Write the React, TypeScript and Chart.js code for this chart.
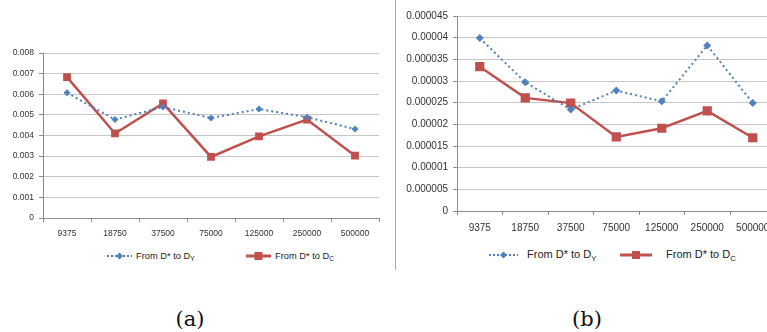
import React, { useEffect, useRef } from 'react';
import { Chart, registerables } from 'chart.js';

Chart.register(...registerables);

const categories = ['9375', '18750', '37500', '75000', '125000', '250000', '500000'];

const leftDY = [0.00607, 0.00477, 0.00538, 0.00485, 0.00528, 0.00489, 0.00431];
const leftDC = [0.00683, 0.0041, 0.00556, 0.00296, 0.00396, 0.00477, 0.00302];

const rightDY = [0.0000399, 0.0000297, 0.0000234, 0.0000278, 0.0000253, 0.0000382, 0.0000249];
const rightDC = [0.0000333, 0.0000261, 0.0000249, 0.0000171, 0.0000191, 0.0000231, 0.0000169];

const leftTickValues = [0, 0.001, 0.002, 0.003, 0.004, 0.005, 0.006, 0.007, 0.008];
const leftTickLabels = ['0', '0.001', '0.002', '0.003', '0.004', '0.005', '0.006', '0.007', '0.008'];

const rightTickValues = [0, 0.000005, 0.00001, 0.000015, 0.00002, 0.000025, 0.00003, 0.000035, 0.00004, 0.000045];
const rightTickLabels = ['0', '0.000005', '0.00001', '0.000015', '0.00002', '0.000025', '0.00003', '0.000035', '0.00004', '0.000045'];

const seriesNames = ['From D* to D', 'From D* to D'];
const seriesSubs = ['Y', 'C'];
const panelLabels = ['(a)', '(b)'];

const BLUE = '#4f81bd';
const RED = '#c0504d';
const FONT = '"Liberation Sans", Arial, sans-serif';

type PanelProps = {
  left: number;
  top: number;
  width: number;
  height: number;
  dy: number[];
  dc: number[];
  tickValues: number[];
  tickLabels: string[];
  max: number;
  yWidth: number;
  xHeight: number;
  padTop: number;
  padRight: number;
  fontSize: number;
  xFontSize: number;
  xPad: number;
  blueRadius: number;
  redRadius: number;
};

function Panel(p: PanelProps) {
  const ref = useRef<HTMLCanvasElement>(null);
  useEffect(() => {
    if (!ref.current) return;
    const chart = new Chart(ref.current, {
      type: 'line',
      data: {
        labels: categories,
        datasets: [
          {
            label: 'D_Y',
            data: p.dy,
            borderColor: BLUE,
            backgroundColor: BLUE,
            borderWidth: 2,
            borderDash: [2, 3],
            pointStyle: 'rectRot',
            pointRadius: p.blueRadius,
            pointBorderWidth: 0,
            tension: 0,
          },
          {
            label: 'D_C',
            data: p.dc,
            borderColor: RED,
            backgroundColor: RED,
            borderWidth: 2.5,
            pointStyle: 'rect',
            pointRadius: p.redRadius,
            pointBorderWidth: 0,
            tension: 0,
          },
        ],
      },
      options: {
        responsive: false,
        animation: false,
        maintainAspectRatio: false,
        layout: { padding: { top: p.padTop, right: p.padRight, left: 0, bottom: 0 } },
        plugins: { legend: { display: false }, tooltip: { enabled: false } },
        scales: {
          x: {
            type: 'category',
            offset: true,
            grid: {
              display: true,
              drawOnChartArea: false,
              drawTicks: true,
              tickLength: 4,
              offset: true,
              color: '#8c8c8c',
            },
            border: { display: true, color: '#8c8c8c', width: 1 },
            ticks: {
              font: { family: FONT, size: p.xFontSize },
              color: '#333333',
              padding: p.xPad,
              maxRotation: 0,
              autoSkip: false,
            },
            afterFit: (scale: any) => {
              scale.height = p.xHeight;
            },
          },
          y: {
            min: 0,
            max: p.max,
            grid: {
              color: '#c6c6c6',
              tickLength: 4,
              tickColor: '#8c8c8c',
            },
            border: { display: true, color: '#8c8c8c', width: 1 },
            afterBuildTicks: (scale: any) => {
              scale.ticks = p.tickValues.map((v) => ({ value: v }));
            },
            ticks: {
              font: { family: FONT, size: p.fontSize },
              color: '#333333',
              padding: 5,
              callback: (_v: any, i: number) => p.tickLabels[i],
            },
            afterFit: (scale: any) => {
              scale.width = p.yWidth;
            },
          },
        },
      },
    });
    return () => chart.destroy();
  }, []);
  return (
    <canvas
      ref={ref}
      width={p.width}
      height={p.height}
      style={{ position: 'absolute', left: p.left, top: p.top, width: p.width, height: p.height }}
    />
  );
}

function LegendItem(props: {
  x: number;
  y: number;
  kind: 'blue' | 'red';
  markerW: number;
  gap: number;
  fontSize: number;
  name: string;
  sub: string;
}) {
  const { x, y, kind, markerW, gap, fontSize, name, sub } = props;
  const h = 12;
  return (
    <div
      style={{
        position: 'absolute',
        left: x,
        top: y - h / 2,
        height: h,
        display: 'flex',
        alignItems: 'center',
        whiteSpace: 'nowrap',
      }}
    >
      <svg width={markerW} height={h} style={{ display: 'block' }}>
        {kind === 'blue' ? (
          <>
            <line
              x1={0}
              y1={h / 2}
              x2={markerW}
              y2={h / 2}
              stroke={BLUE}
              strokeWidth={2}
              strokeDasharray="2 2"
            />
            <polygon
              points={`${markerW / 2},${h / 2 - 3.5} ${markerW / 2 + 3.5},${h / 2} ${markerW / 2},${h / 2 + 3.5} ${markerW / 2 - 3.5},${h / 2}`}
              fill={BLUE}
            />
          </>
        ) : (
          <>
            <line x1={0} y1={h / 2} x2={markerW} y2={h / 2} stroke={RED} strokeWidth={3} />
            <rect x={markerW / 2 - 4} y={h / 2 - 4} width={8} height={8} fill={RED} />
          </>
        )}
      </svg>
      <span
        style={{
          marginLeft: gap,
          fontFamily: FONT,
          fontSize,
          color: '#222',
          lineHeight: `${h}px`,
        }}
      >
        {name}
        <sub style={{ fontSize: fontSize * 0.7, verticalAlign: 'baseline', position: 'relative', top: fontSize * 0.25 }}>
          {sub}
        </sub>
      </span>
    </div>
  );
}

export default function App() {
  return (
    <div
      style={{
        position: 'fixed',
        left: 0,
        top: 0,
        width: 767,
        height: 332,
        overflow: 'hidden',
        background: '#ffffff',
      }}
    >
      <Panel
        left={0}
        top={0}
        width={395}
        height={245}
        dy={leftDY}
        dc={leftDC}
        tickValues={leftTickValues}
        tickLabels={leftTickLabels}
        max={0.008}
        yWidth={43}
        xHeight={27}
        padTop={53}
        padRight={16}
        fontSize={8.5}
        xFontSize={8.5}
        xPad={7}
        blueRadius={3.5}
        redRadius={5.5}
      />
      <Panel
        left={396}
        top={0}
        width={396}
        height={240}
        dy={rightDY}
        dc={rightDC}
        tickValues={rightTickValues}
        tickLabels={rightTickLabels}
        max={0.000045}
        yWidth={61}
        xHeight={29}
        padTop={16}
        padRight={16.5}
        fontSize={10}
        xFontSize={10}
        xPad={7}
        blueRadius={4}
        redRadius={6.5}
      />
      <div
        style={{
          position: 'absolute',
          left: 395,
          top: 0,
          width: 1,
          height: 270,
          background: '#a8a8a8',
        }}
      />
      <LegendItem x={107} y={256} kind="blue" markerW={25} gap={4} fontSize={9.3} name={seriesNames[0]} sub={seriesSubs[0]} />
      <LegendItem x={246} y={256} kind="red" markerW={25} gap={4} fontSize={9.3} name={seriesNames[1]} sub={seriesSubs[1]} />
      <LegendItem x={489} y={255} kind="blue" markerW={29} gap={9} fontSize={11} name={seriesNames[0]} sub={seriesSubs[0]} />
      <LegendItem x={620} y={255} kind="red" markerW={32} gap={14} fontSize={11} name={seriesNames[1]} sub={seriesSubs[1]} />
      <div
        style={{
          position: 'absolute',
          left: 150,
          width: 80,
          top: 305,
          textAlign: 'center',
          fontFamily: '"DejaVu Serif", serif',
          fontSize: 21,
          lineHeight: '28px',
          color: '#111',
        }}
      >
        {panelLabels[0]}
      </div>
      <div
        style={{
          position: 'absolute',
          left: 547,
          width: 80,
          top: 305,
          textAlign: 'center',
          fontFamily: '"DejaVu Serif", serif',
          fontSize: 21,
          lineHeight: '28px',
          color: '#111',
        }}
      >
        {panelLabels[1]}
      </div>
    </div>
  );
}
